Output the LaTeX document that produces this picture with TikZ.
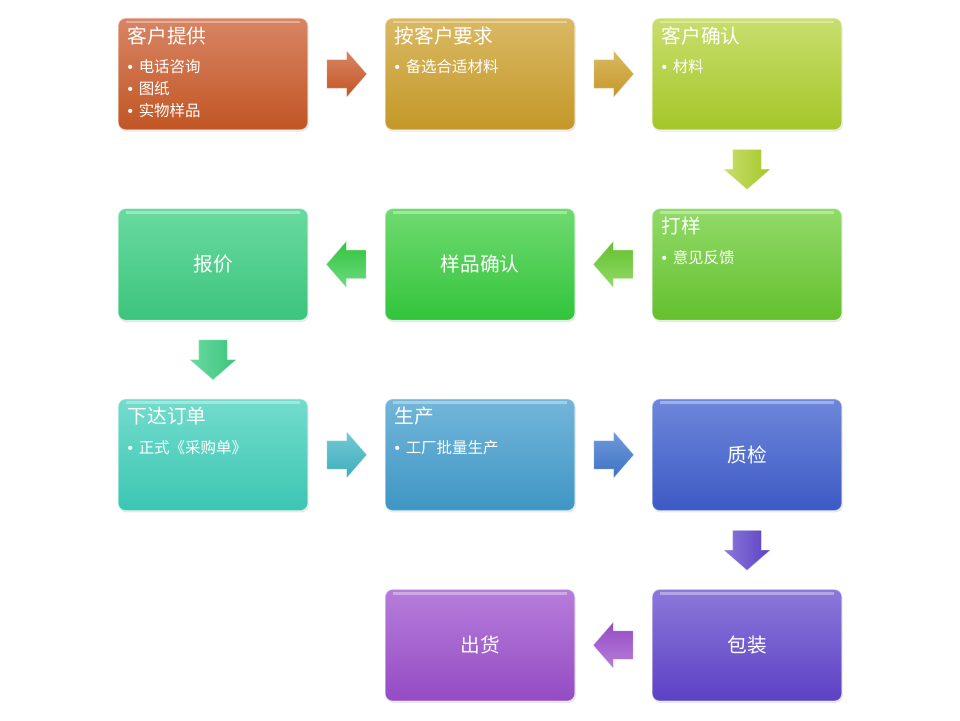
\documentclass[tikz,border=0pt]{standalone}
\usepackage{fontspec}
\setmainfont{Noto Sans CJK SC}
\newfontfamily\dotfont{Liberation Sans}
\usetikzlibrary{positioning, calc, shapes.arrows, shadows}

\definecolor{orangeA}{RGB}{216,132,100}
\definecolor{orangeB}{RGB}{193,86,36}
\definecolor{goldA}{RGB}{218,185,100}
\definecolor{goldB}{RGB}{196,152,40}
\definecolor{limeA}{RGB}{200,222,110}
\definecolor{limeB}{RGB}{165,198,40}
\definecolor{grassA}{RGB}{145,218,105}
\definecolor{grassB}{RGB}{100,192,45}
\definecolor{greenA}{RGB}{112,218,112}
\definecolor{greenB}{RGB}{50,196,60}
\definecolor{mintA}{RGB}{105,218,160}
\definecolor{mintB}{RGB}{60,196,125}
\definecolor{tealA}{RGB}{115,220,205}
\definecolor{tealB}{RGB}{60,198,178}
\definecolor{skyA}{RGB}{115,182,218}
\definecolor{skyB}{RGB}{62,150,196}
\definecolor{blueA}{RGB}{110,135,218}
\definecolor{blueB}{RGB}{60,90,196}
\definecolor{indigoA}{RGB}{140,120,218}
\definecolor{indigoB}{RGB}{92,65,196}
\definecolor{violetA}{RGB}{182,125,218}
\definecolor{violetB}{RGB}{148,75,196}

\tikzset{
  stepbox/.style={rectangle, rounded corners=5.5pt, minimum width=4.75cm,
    minimum height=2.8cm, draw=white, draw opacity=0.6, line width=0.8pt,
    text=white, font=\fontsize{14pt}{17pt}\selectfont,
    drop shadow={opacity=0.2, shadow xshift=0.6pt, shadow yshift=-1.2pt},
    path picture={\draw[white, opacity=0.35, line width=2pt]
      ([shift={(0.2,-0.1)}]path picture bounding box.north west) --
      ([shift={(-0.2,-0.1)}]path picture bounding box.north east);}},
  tone/.style 2 args={top color=#1, bottom color=#2},
  boxtext/.style={anchor=north west, align=left, inner sep=0pt, text=white,
    font=\fontsize{11pt}{15.5pt}\selectfont},
  arr/.style={single arrow, single arrow head extend=0.225cm,
    single arrow tip angle=98, minimum height=1cm, inner sep=0pt,
    anchor=tail, execute at begin node={\rule{0pt}{7mm}},
    draw=white, draw opacity=0.4, line width=0.4pt}
}
\newcommand{\boxhead}[1]{{\fontsize{14pt}{15pt}\selectfont #1}\\[5.5pt]}
\newcommand{\itm}[1]{{\dotfont •}\hspace{4pt}#1}

\begin{document}
\begin{tikzpicture}[node distance=4.76cm and 6.675cm, on grid]
  \useasboundingbox (0,0) rectangle (24,18);

  % first row
  \node[stepbox, tone={orangeA}{orangeB}] (tg) at (5.325,16.15) {};
  \node[stepbox, tone={goldA}{goldB}] (yq) [right=of tg] {};
  \node[stepbox, tone={limeA}{limeB}] (qr) [right=of yq] {};
  % second row
  \node[stepbox, tone={grassA}{grassB}] (dy) [below=of qr] {};
  \node[stepbox, tone={greenA}{greenB}] (yp) [left=of dy] {样品确认};
  \node[stepbox, tone={mintA}{mintB}] (bj) [left=of yp] {报价};
  % third row
  \node[stepbox, tone={tealA}{tealB}] (xd) [below=of bj] {};
  \node[stepbox, tone={skyA}{skyB}] (sc) [right=of xd] {};
  \node[stepbox, tone={blueA}{blueB}] (zj) [right=of sc] {质检};
  % last row
  \node[stepbox, tone={indigoA}{indigoB}] (bz) [below=of zj] {包装};
  \node[stepbox, tone={violetA}{violetB}] (ch) [left=of bz] {出货};

  % texts in the boxes
  \node[boxtext] at ([shift={(0.25,-0.22)}]tg.north west)
    {\boxhead{客户提供}\itm{电话咨询}\\\itm{图纸}\\\itm{实物样品}};
  \node[boxtext] at ([shift={(0.25,-0.22)}]yq.north west)
    {\boxhead{按客户要求}\itm{备选合适材料}};
  \node[boxtext] at ([shift={(0.25,-0.22)}]qr.north west)
    {\boxhead{客户确认}\itm{材料}};
  \node[boxtext] at ([shift={(0.25,-0.22)}]dy.north west)
    {\boxhead{打样}\itm{意见反馈}};
  \node[boxtext] at ([shift={(0.25,-0.22)}]xd.north west)
    {\boxhead{下达订单}\itm{正式《采购单》}};
  \node[boxtext] at ([shift={(0.25,-0.22)}]sc.north west)
    {\boxhead{生产}\itm{工厂批量生产}};

  % block arrows, tail half a cm before the middle of each gap
  \node[arr, tone={orangeA}{orangeB}] at ($(tg)!0.5!(yq)!0.5cm!(tg)$) {};
  \node[arr, tone={goldA}{goldB}] at ($(yq)!0.5!(qr)!0.5cm!(yq)$) {};
  \node[arr, rotate=-90, left color=limeA, right color=limeB] at ($(qr)!0.5!(dy)!0.5cm!(qr)$) {};
  \node[arr, rotate=180, tone={grassB}{grassA}] at ($(dy)!0.5!(yp)!0.5cm!(dy)$) {};
  \node[arr, rotate=180, tone={greenB}{greenA!60!mintA}] at ($(yp)!0.5!(bj)!0.5cm!(yp)$) {};
  \node[arr, rotate=-90, left color=mintA, right color=mintB] at ($(bj)!0.5!(xd)!0.5cm!(bj)$) {};
  \node[arr, tone={tealA!50!skyA}{tealB!50!skyB}] at ($(xd)!0.5!(sc)!0.5cm!(xd)$) {};
  \node[arr, tone={skyA!40!blueA}{skyB!40!blueB}] at ($(sc)!0.5!(zj)!0.5cm!(sc)$) {};
  \node[arr, rotate=-90, left color=indigoA, right color=indigoB] at ($(zj)!0.5!(bz)!0.5cm!(zj)$) {};
  \node[arr, rotate=180, tone={violetB}{violetA}] at ($(bz)!0.5!(ch)!0.5cm!(bz)$) {};
\end{tikzpicture}
\end{document}
